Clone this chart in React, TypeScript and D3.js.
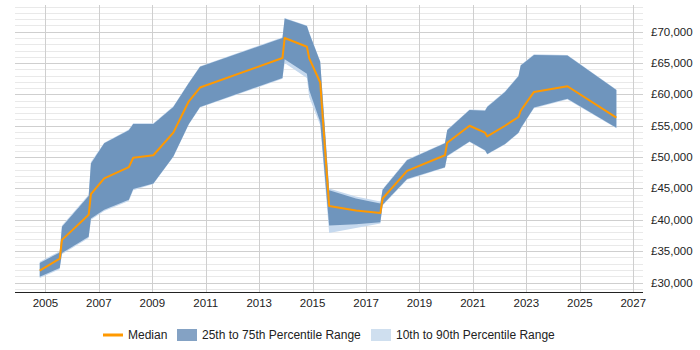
import React, { useEffect, useRef } from 'react';
import * as d3 from 'd3';

// sample dates (year-month) and salary percentiles
const dates = [
  '2004-10', '2005-07', '2005-08', '2006-08', '2006-09', '2007-03', '2008-02', '2008-04',
  '2009-01', '2009-10', '2010-05', '2010-10', '2013-11', '2013-12', '2014-10', '2014-11',
  '2015-04', '2015-08', '2016-08', '2017-07', '2017-08', '2018-07', '2019-12', '2020-01',
  '2020-11', '2021-06', '2021-07', '2022-03', '2022-09', '2022-10', '2023-04', '2024-07',
  '2026-05',
];

const median = [
  31900, 33800, 36800, 40800, 44100, 46600, 48400, 49900,
  50300, 53900, 58900, 61100, 65800, 69000, 67600, 65800,
  61900, 42200, 41500, 41100, 43400, 47800, 50300, 52300,
  55000, 53900, 53300, 55000, 56400, 57400, 60400, 61300,
  56300,
];

const p25 = [
  30900, 32300, 34700, 37300, 40200, 41600, 43200, 44900,
  45800, 50100, 55300, 58000, 62600, 65600, 63300, 60700,
  55600, 39100, 39300, 39600, 42400, 46500, 48400, 50200,
  52500, 51100, 50500, 52100, 53900, 54600, 57900, 59300,
  54700,
];

const p75 = [
  33100, 34800, 38900, 43800, 49000, 52200, 54300, 55300,
  55300, 58000, 61800, 64400, 69000, 72100, 70900, 69800,
  65200, 44700, 43400, 42600, 44800, 49500, 52200, 54300,
  57500, 57400, 58000, 60400, 62900, 64600, 66300, 66200,
  60700,
];

const p10 = [
  30700, 32100, 34500, 37100, 40000, 41400, 43000, 44700,
  45700, 50000, 55200, 57900, 62500, 65000, 62600, 59600,
  55100, 37900, 38700, 39400, 42300, 46400, 48300, 50100,
  52400, 51000, 50400, 52000, 53800, 54500, 57800, 59200,
  54600,
];

const p90 = [
  33300, 35000, 39100, 44000, 49200, 52300, 54400, 55400,
  55400, 58100, 61900, 64500, 69100, 72200, 71000, 69900,
  65300, 45000, 43700, 42900, 44900, 49600, 52300, 54400,
  57600, 57500, 58100, 60500, 63000, 64700, 66400, 66300,
  60800,
];

const yTicks = [30000, 35000, 40000, 45000, 50000, 55000, 60000, 65000, 70000];
const xTickYears = [2005, 2007, 2009, 2011, 2013, 2015, 2017, 2019, 2021, 2023, 2025, 2027];

const legendItems = [
  { label: 'Median', kind: 'line', color: '#ff9900' },
  { label: '25th to 75th Percentile Range', kind: 'box', color: '#84a2c4' },
  { label: '10th to 90th Percentile Range', kind: 'box', color: '#cfdfef' },
];

const FONT = '"Liberation Sans", Arial, sans-serif';

function toDate(s: string) {
  const [y, m] = s.split('-').map(Number);
  return new Date(y, m - 1, 15);
}

const SalaryChart: React.FC = () => {
  const svgRef = useRef<SVGSVGElement>(null);

  useEffect(() => {
    if (!svgRef.current) return;
    const svg = d3.select(svgRef.current);
    svg.selectAll('*').remove();

    const width = 700;
    const height = 350;
    const plot = { left: 15, right: 643, top: 5, bottom: 292 };

    const rows = dates.map((d, i) => ({
      date: toDate(d),
      median: median[i],
      p10: p10[i],
      p25: p25[i],
      p75: p75[i],
      p90: p90[i],
    }));

    const x = d3.scaleTime()
      .domain([new Date(2003, 10, 12), new Date(2027, 4, 14)])
      .range([plot.left, plot.right]);

    const y = d3.scaleLinear()
      .domain([28485, 74260])
      .range([plot.bottom, plot.top]);

    svg.attr('width', width).attr('height', height);

    // horizontal grid: minor every 1000, major every 5000
    const grid = svg.append('g');
    d3.range(29000, 74001, 1000).forEach(v => {
      const major = v % 5000 === 0;
      grid.append('line')
        .attr('x1', plot.left)
        .attr('x2', plot.right)
        .attr('y1', Math.round(y(v)) + 0.5)
        .attr('y2', Math.round(y(v)) + 0.5)
        .attr('stroke', major ? '#cfcfcf' : '#e9e9e9')
        .attr('stroke-width', 1);
    });

    // vertical grid on labelled years
    xTickYears.forEach(yr => {
      const px = Math.round(x(new Date(yr, 0, 1))) + 0.5;
      grid.append('line')
        .attr('x1', px)
        .attr('x2', px)
        .attr('y1', plot.top)
        .attr('y2', plot.bottom)
        .attr('stroke', '#cfcfcf')
        .attr('stroke-width', 1);
    });

    const area = (lo: string, hi: string) => d3.area<any>()
      .x(d => x(d.date))
      .y0(d => y(d[lo]))
      .y1(d => y(d[hi]));

    svg.append('path')
      .datum(rows)
      .attr('d', area('p10', 'p90'))
      .attr('fill', '#c6d9ee');

    svg.append('path')
      .datum(rows)
      .attr('d', area('p25', 'p75'))
      .attr('fill', '#6f95bd');

    const line = d3.line<any>()
      .x(d => x(d.date))
      .y(d => y(d.median));

    svg.append('path')
      .datum(rows)
      .attr('d', line)
      .attr('fill', 'none')
      .attr('stroke', '#ff9900')
      .attr('stroke-width', 2)
      .attr('stroke-linejoin', 'round');

    // bottom axis line
    svg.append('line')
      .attr('x1', plot.left)
      .attr('x2', plot.right)
      .attr('y1', plot.bottom + 0.5)
      .attr('y2', plot.bottom + 0.5)
      .attr('stroke', '#222')
      .attr('stroke-width', 1);

    // x labels
    xTickYears.forEach(yr => {
      svg.append('text')
        .attr('x', x(new Date(yr, 0, 1)))
        .attr('y', 307)
        .attr('text-anchor', 'middle')
        .style('font-family', FONT)
        .style('font-size', '11.5px')
        .style('fill', '#222')
        .text(String(yr));
    });

    // y labels on the right
    yTicks.forEach(v => {
      svg.append('text')
        .attr('x', 651)
        .attr('y', y(v))
        .attr('dy', '0.35em')
        .style('font-family', FONT)
        .style('font-size', '11.5px')
        .style('fill', '#222')
        .text('£' + d3.format(',')(v));
    });

    // legend
    const legend = svg.append('g').attr('transform', 'translate(103, 335)');
    const legendX = [0, 74, 268];
    legendItems.forEach((item, i) => {
      const g = legend.append('g').attr('transform', `translate(${legendX[i]}, 0)`);
      if (item.kind === 'line') {
        g.append('line')
          .attr('x1', 0)
          .attr('x2', 20)
          .attr('y1', 0)
          .attr('y2', 0)
          .attr('stroke', item.color)
          .attr('stroke-width', 3);
      } else {
        g.append('rect')
          .attr('x', 0)
          .attr('y', -6)
          .attr('width', 20)
          .attr('height', 12)
          .attr('fill', item.color);
      }
      g.append('text')
        .attr('x', 25)
        .attr('y', 0)
        .attr('dy', '0.35em')
        .style('font-family', FONT)
        .style('font-size', '12px')
        .style('fill', '#222')
        .text(item.label);
    });
  }, []);

  return <svg ref={svgRef} style={{ display: 'block' }}></svg>;
};

export default function App() {
  return (
    <div style={{ position: 'absolute', left: 0, top: 0, width: 700, height: 350, background: '#fff' }}>
      <SalaryChart />
    </div>
  );
}
